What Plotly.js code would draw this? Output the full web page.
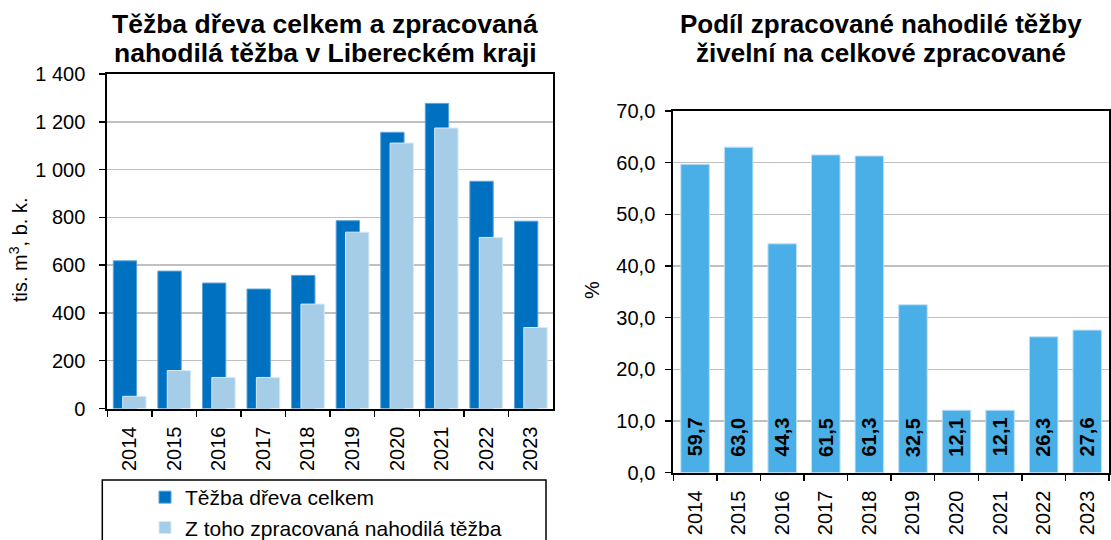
<!DOCTYPE html>
<html>
<head>
<meta charset="utf-8">
<script src="https://cdn.plot.ly/plotly-3.0.1.min.js"></script>
<style>html,body{margin:0;padding:0;background:#fff;}#chart{width:1111px;height:540px;}</style>
</head>
<body>
<div id="chart"></div>
<script>
// ---- data ----
const years = ['2014','2015','2016','2017','2018','2019','2020','2021','2022','2023'];
const totalHarvest = [618, 575, 525, 500, 557, 786, 1156, 1277, 951, 784];
const salvageHarvest = [51, 159, 130, 130, 437, 738, 1111, 1174, 716, 339];
const calamityShare = [59.7, 63.0, 44.3, 61.5, 61.3, 32.5, 12.1, 12.1, 26.3, 27.6];
const seriesNames = ['Těžba dřeva celkem', 'Z toho zpracovaná nahodilá těžba'];
const leftTitleLines = ['Těžba dřeva celkem a zpracovaná', 'nahodilá těžba v Libereckém kraji'];
const rightTitleLines = ['Podíl zpracované nahodilé těžby', 'živelní na celkové zpracované'];
const leftYTitle = 'tis. m<sup>3</sup>, b. k.';
const rightYTitle = '%';

const FONT = 'Liberation Sans, Arial, sans-serif';
const W = 1111, H = 540;
const px = v => v / W;
const py = v => 1 - v / H;

const traces = [
  {
    type: 'bar', x: years, y: totalHarvest, name: seriesNames[0],
    xaxis: 'x', yaxis: 'y',
    offset: -0.365, width: 0.524,
    marker: {color: '#0070C0', line: {color: '#5BA3D9', width: 1}},
    hoverinfo: 'x+y'
  },
  {
    type: 'bar', x: years, y: salvageHarvest, name: seriesNames[1],
    xaxis: 'x', yaxis: 'y',
    offset: -0.155, width: 0.524,
    marker: {color: '#A6CDE8', line: {color: '#D6E9F6', width: 1}},
    hoverinfo: 'x+y'
  },
  {
    type: 'bar', x: years, y: calamityShare, name: 'Podíl',
    xaxis: 'x2', yaxis: 'y2', showlegend: false,
    width: 0.655,
    marker: {color: '#4AAFE6', line: {color: '#BFE1F6', width: 1}},
    hoverinfo: 'x+y'
  }
];

const axisCommon = () => ({
  showline: true, linecolor: '#000', linewidth: 2, mirror: true,
  ticks: 'outside', ticklen: 6, tickwidth: 1.5, tickcolor: '#000',
  tickfont: {family: FONT, size: 20, color: '#000'},
  zeroline: false, fixedrange: true, automargin: false
});

const annotations = [];
leftTitleLines.forEach((t, i) => annotations.push({
  xref: 'paper', yref: 'paper', x: px(325), y: py(i === 0 ? 24 : 53),
  xanchor: 'center', yanchor: 'middle', showarrow: false,
  text: '<b>' + t + '</b>', font: {family: FONT, size: 26.5, color: '#000'}
}));
rightTitleLines.forEach((t, i) => annotations.push({
  xref: 'paper', yref: 'paper', x: px(881), y: py(i === 0 ? 24 : 53),
  xanchor: 'center', yanchor: 'middle', showarrow: false,
  text: '<b>' + t + '</b>', font: {family: FONT, size: 26, color: '#000'}
}));
annotations.push({
  xref: 'paper', yref: 'paper', x: px(18), y: py(250), textangle: -90,
  xanchor: 'center', yanchor: 'middle', showarrow: false,
  text: leftYTitle, font: {family: FONT, size: 20, color: '#000'}
});
annotations.push({
  xref: 'paper', yref: 'paper', x: px(592), y: py(290), textangle: -90,
  xanchor: 'center', yanchor: 'middle', showarrow: false,
  text: rightYTitle, font: {family: FONT, size: 20, color: '#000'}
});
calamityShare.forEach((v, i) => annotations.push({
  xref: 'x2', yref: 'y2', x: i, y: 0, textangle: -90,
  xanchor: 'center', yanchor: 'bottom', yshift: 14, showarrow: false,
  text: '<b>' + v.toFixed(1).replace('.', ',') + '</b>',
  font: {family: FONT, size: 20, color: '#000'}
}));

const layout = {
  width: W, height: H,
  margin: {l: 0, r: 0, t: 0, b: 0, autoexpand: false},
  paper_bgcolor: '#fff', plot_bgcolor: '#fff',
  separators: ', ',
  barmode: 'overlay',
  font: {family: FONT, size: 20, color: '#000'},
  xaxis: Object.assign(axisCommon(), {
    domain: [px(107.3), px(553)], anchor: 'y',
    type: 'category', categoryorder: 'array', categoryarray: years,
    range: [-0.5, 9.5], autorange: false,
    tickson: 'boundaries', tickangle: -90,
    ticklabelstandoff: 8, showgrid: false
  }),
  yaxis: Object.assign(axisCommon(), {
    domain: [py(408.5), py(74)], anchor: 'x',
    range: [0, 1400], autorange: false, dtick: 200, tick0: 0, tickformat: ',d',
    showgrid: true, gridcolor: '#C0C0C0', gridwidth: 1.5,
    ticklabelstandoff: 10
  }),
  xaxis2: Object.assign(axisCommon(), {
    domain: [px(673.3), px(1109)], anchor: 'y2',
    type: 'category', categoryorder: 'array', categoryarray: years,
    range: [-0.5, 9.5], autorange: false,
    tickson: 'boundaries', tickangle: -90,
    ticklabelstandoff: 8, showgrid: false
  }),
  yaxis2: Object.assign(axisCommon(), {
    domain: [py(472.7), py(111)], anchor: 'x2',
    range: [0, 70], autorange: false, dtick: 10, tick0: 0, tickformat: '.1f',
    showgrid: true, gridcolor: '#C0C0C0', gridwidth: 1.5,
    ticklabelstandoff: 6
  }),
  showlegend: true,
  legend: {
    xref: 'container', yref: 'container',
    x: px(145), y: py(477), xanchor: 'left', yanchor: 'top',
    orientation: 'v', bgcolor: 'rgba(0,0,0,0)', borderwidth: 0,
    font: {family: FONT, size: 21, color: '#000'},
    itemclick: false, itemdoubleclick: false
  },
  shapes: [{
    type: 'rect', xref: 'paper', yref: 'paper',
    x0: px(102.3), x1: px(546), y0: py(560), y1: py(480),
    line: {color: '#000', width: 1.5}, fillcolor: 'rgba(0,0,0,0)'
  }],
  annotations: annotations
};

Plotly.newPlot('chart', traces, layout, {displayModeBar: false, staticPlot: true});
</script>
</body>
</html>
